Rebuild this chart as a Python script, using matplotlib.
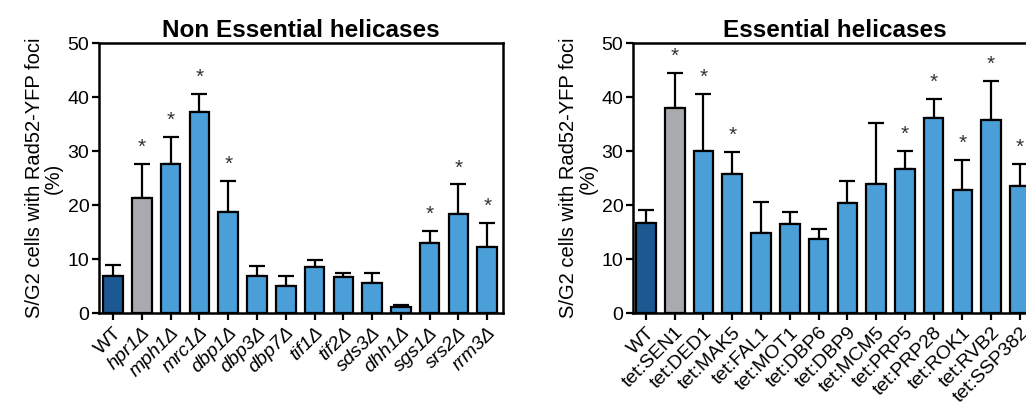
import matplotlib
matplotlib.use("Agg")
import matplotlib.pyplot as plt
import numpy as np

plt.rcParams["font.family"] = ["Liberation Sans", "DejaVu Sans"]

# Non essential helicases
NE_LABELS = ["WT", "hpr1Δ", "mph1Δ", "mrc1Δ", "dbp1Δ", "dbp3Δ", "dbp7Δ", "tif1Δ",
             "tif2Δ", "sds3Δ", "dhh1Δ", "sgs1Δ", "srs2Δ", "rrm3Δ"]
NE_MEAN = [6.9, 21.3, 27.6, 37.2, 18.7, 6.9, 5.0, 8.5, 6.7, 5.6, 1.1, 12.9, 18.3, 12.2]
NE_ERR_TOP = [8.9, 27.6, 32.6, 40.6, 24.4, 8.7, 6.9, 9.8, 7.4, 7.4, 1.5, 15.2, 23.8, 16.7]
NE_SIG = [False, True, True, True, True, False, False, False, False, False, False, True, True, True]

# Essential helicases
E_LABELS = ["WT", "tet:SEN1", "tet:DED1", "tet:MAK5", "tet:FAL1", "tet:MOT1", "tet:DBP6",
            "tet:DBP9", "tet:MCM5", "tet:PRP5", "tet:PRP28", "tet:ROK1", "tet:RVB2", "tet:SSP382"]
E_MEAN = [16.6, 37.9, 30.0, 25.8, 14.8, 16.5, 13.7, 20.3, 23.9, 26.6, 36.2, 22.7, 35.7, 23.5]
E_ERR_TOP = [19.1, 44.5, 40.6, 29.8, 20.5, 18.7, 15.5, 24.4, 35.2, 30.0, 39.6, 28.3, 43.0, 27.6]
E_SIG = [False, True, True, True, False, False, False, False, False, True, True, True, True, True]

DARK = "#1c5891"
GRAY = "#a8aaad"
BLUE = "#4a9fd9"


def panel(ax, labels, mean, err_top, sig, title, italic, xlim):
    x = np.arange(len(labels))
    mean = np.array(mean)
    err = np.array(err_top) - mean
    colors = [DARK, GRAY] + [BLUE] * (len(labels) - 2)
    ax.bar(x, mean, width=0.68, color=colors, edgecolor="black", linewidth=1.6, zorder=3)
    ax.errorbar(x, mean, yerr=[np.zeros_like(err), err], fmt="none", ecolor="black",
                elinewidth=1.6, capsize=5.5, capthick=1.6, zorder=2)
    for xi, top, s in zip(x, err_top, sig):
        if s:
            ax.text(xi, top + 1.3, "*", ha="center", va="bottom", fontsize=15, color="#333333")
    ax.set_xlim(*xlim)
    ax.set_ylim(0, 50)
    ax.set_yticks([0, 10, 20, 30, 40, 50])
    ax.set_xticks(x)
    ax.set_xticklabels(labels, rotation=45, ha="right", rotation_mode="anchor", fontsize=14)
    if italic:
        for lab in ax.get_xticklabels()[1:]:
            lab.set_style("italic")
    ax.tick_params(axis="both", direction="out", length=5, width=1.6, pad=3)
    ax.tick_params(axis="y", labelsize=14, pad=2)
    for sp in ax.spines.values():
        sp.set_linewidth(1.8)
    ax.set_title(title, fontsize=17.5, fontweight="bold", pad=4)
    ax.set_ylabel("S/G2 cells with Rad52-YFP foci\n(%)", fontsize=14.5, labelpad=3,
                  linespacing=1.0)


fig = plt.figure(figsize=(10.26, 4.03), dpi=100)
ax1 = fig.add_axes([0.0965, 0.2233, 0.3938, 0.67])
ax2 = fig.add_axes([0.617, 0.2233, 0.3938, 0.67])

panel(ax1, NE_LABELS, NE_MEAN, NE_ERR_TOP, NE_SIG, "Non Essential helicases", True, (-0.49, 13.55))
panel(ax2, E_LABELS, E_MEAN, E_ERR_TOP, E_SIG, "Essential helicases", False, (-0.45, 13.6))

fig.savefig("out.png", dpi=100)
